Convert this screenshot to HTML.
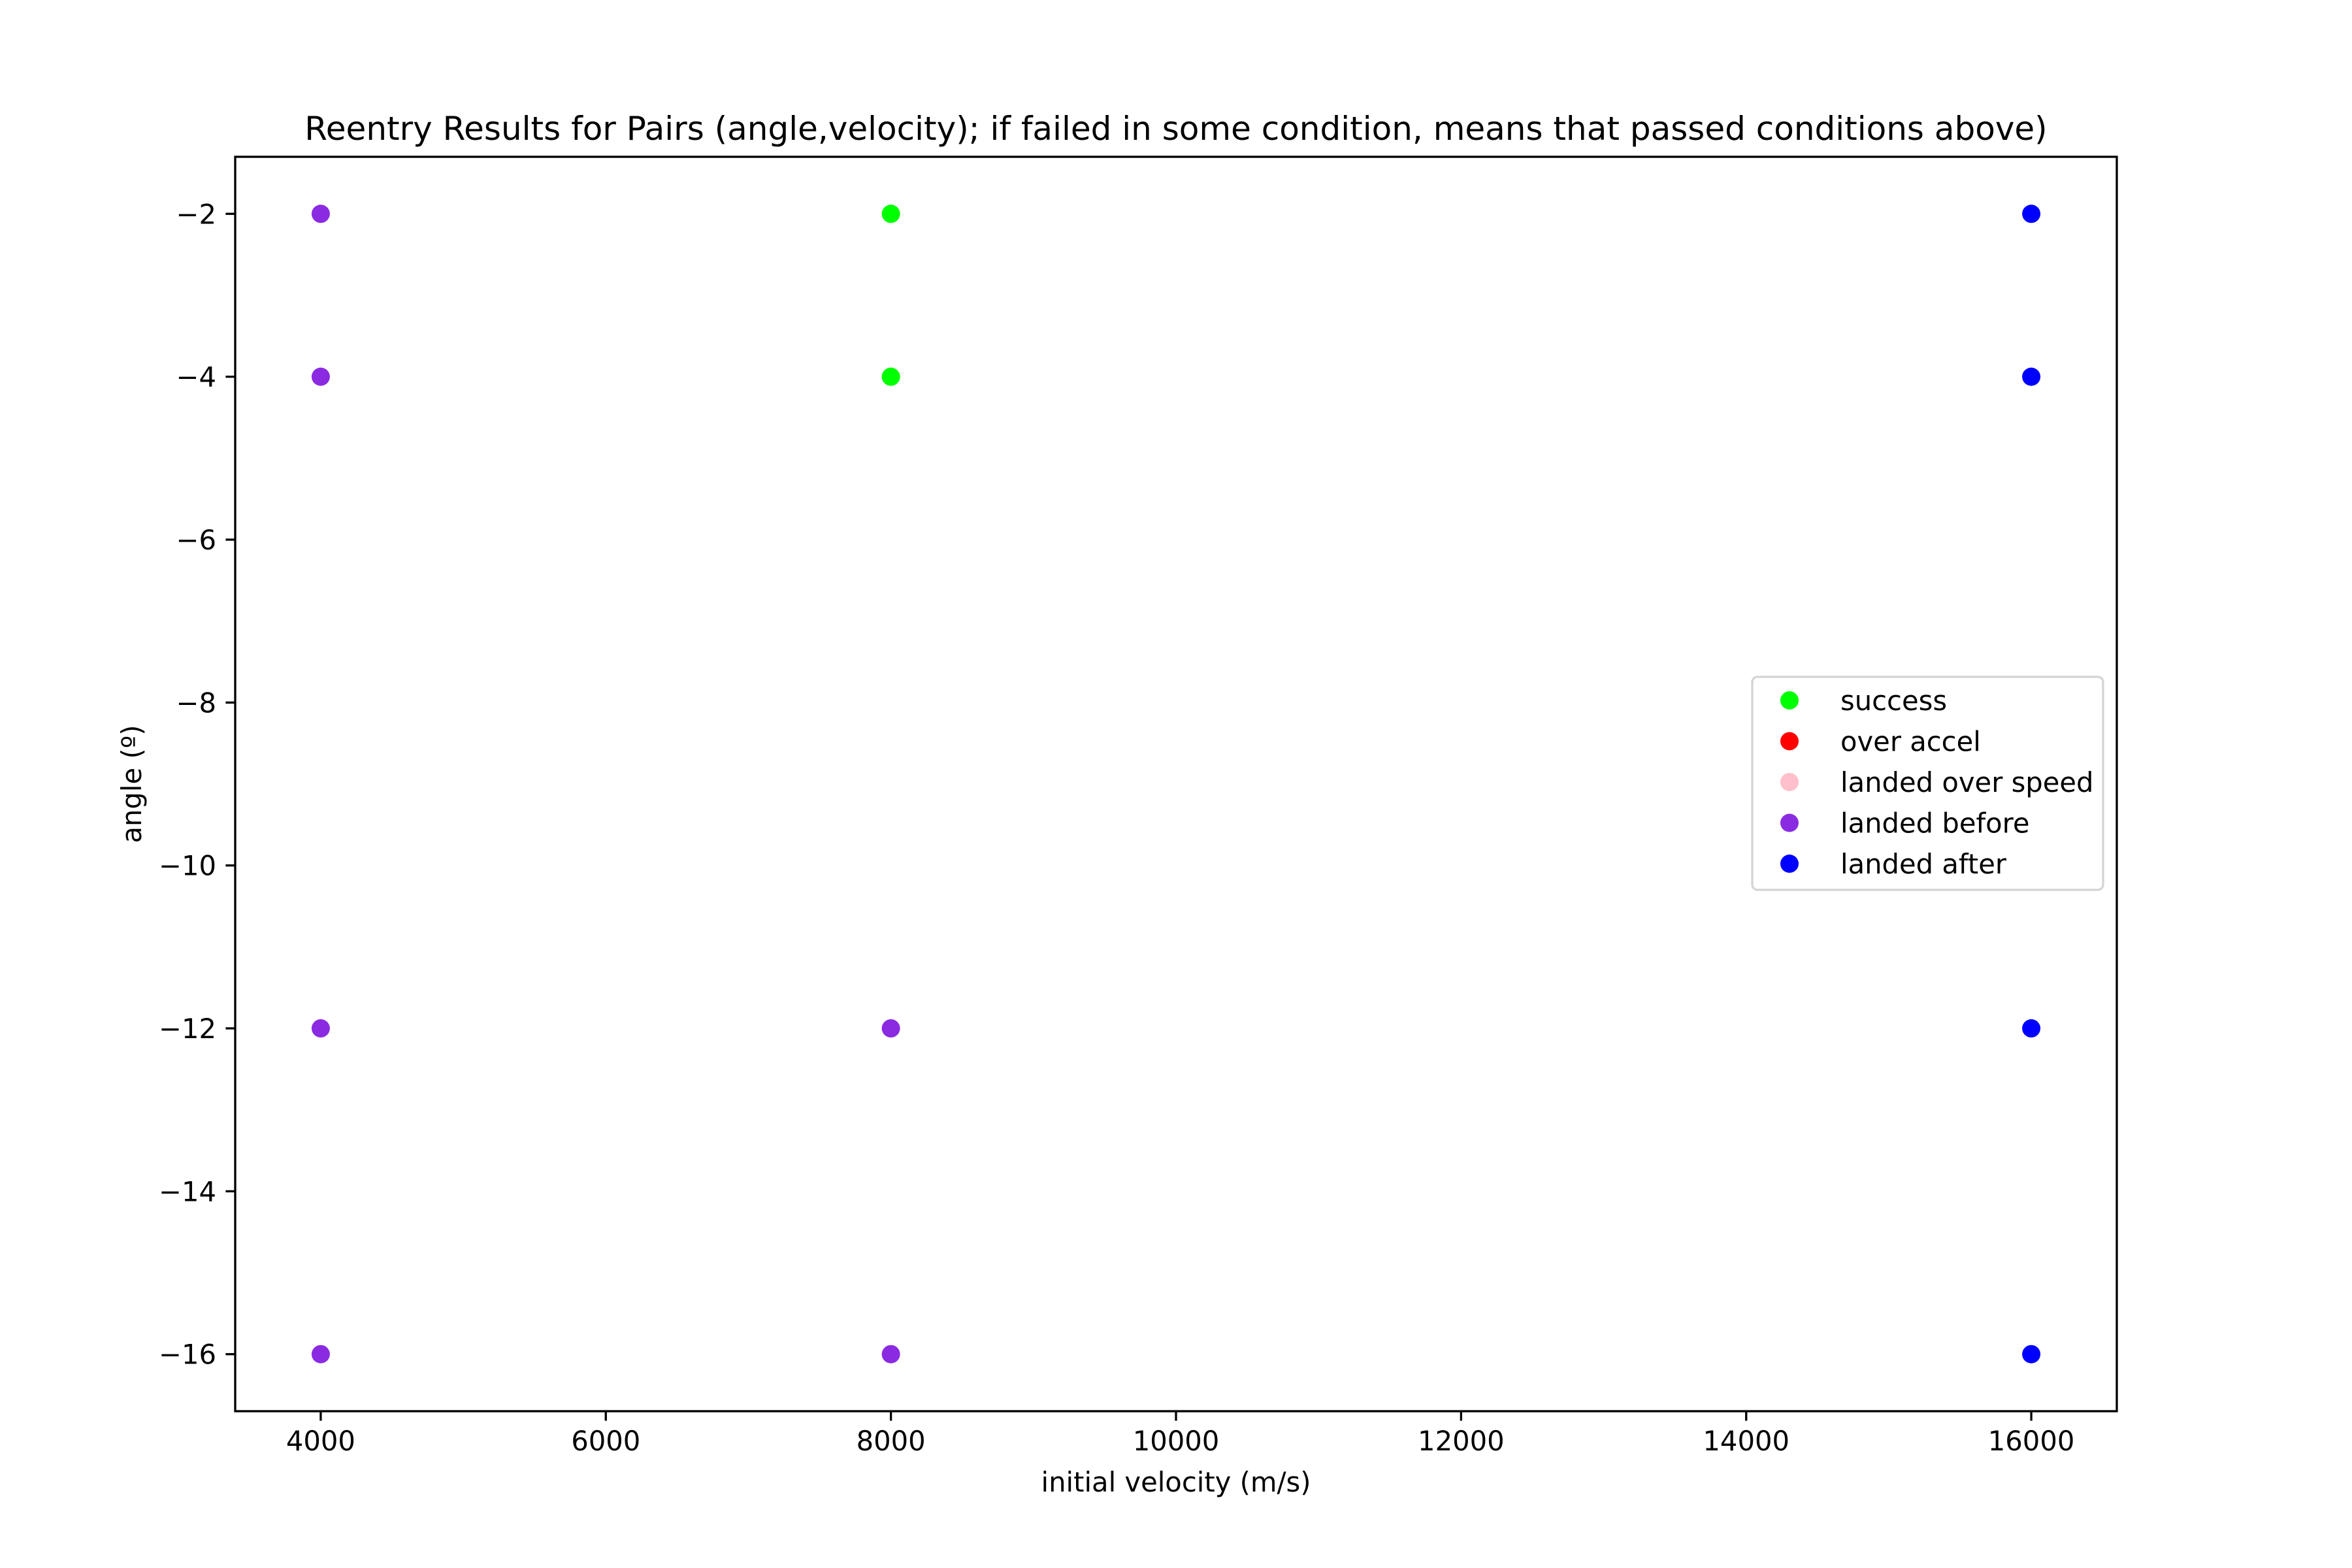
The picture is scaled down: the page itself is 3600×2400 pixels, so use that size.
<!DOCTYPE html>
<html><head><meta charset="utf-8"><style>
html,body{margin:0;padding:0;background:#fff}
svg{display:block;font-family:"DejaVu Sans","Liberation Sans",sans-serif}
</style></head><body>
<svg id="chart" width="3600" height="2400" viewBox="0 0 3600 2400" xmlns="http://www.w3.org/2000/svg">
<rect width="3600" height="2400" fill="#fff"/>
<text x="1800" y="214" font-size="50" text-anchor="middle">Reentry Results for Pairs (angle,velocity); if failed in some condition, means that passed conditions above)</text>
<g id="plot"></g>
<text x="1800" y="2283" font-size="41.7" text-anchor="middle">initial velocity (m/s)</text>
<text transform="translate(216,1200) rotate(-90)" font-size="41.7" text-anchor="middle">angle (º)</text>
<g id="legend"></g>
</svg>
<script>
const categories = ["success","over accel","landed over speed","landed before","landed after"];
const colors = ["#00ff00","#ff0000","#ffc0cb","#8a2be2","#0000ff"];
const successX = [8000,8000];
const successY = [-2,-4];
const landedBeforeX = [4000,4000,4000,4000,8000,8000];
const landedBeforeY = [-2,-4,-12,-16,-12,-16];
const landedAfterX = [16000,16000,16000,16000];
const landedAfterY = [-2,-4,-12,-16];
const xTicks = [4000,6000,8000,10000,12000,14000,16000];
const yTicks = [-2,-4,-6,-8,-10,-12,-14,-16];

const L=360,R=3240,T=240,B=2160;
const xMin=3400,xMax=16600,yMin=-16.7,yMax=-1.3;
const sx=v=>L+(v-xMin)/(xMax-xMin)*(R-L);
const sy=v=>T+(yMax-v)/(yMax-yMin)*(B-T);
const NS="http://www.w3.org/2000/svg";
const plot=document.getElementById('plot');
function mk(tag,attrs,parent){const e=document.createElementNS(NS,tag);for(const k in attrs)e.setAttribute(k,attrs[k]);parent.appendChild(e);return e;}

function series(xs,ys,color,name){
  xs.forEach((x,i)=>{
    const c=mk('circle',{cx:sx(x),cy:sy(ys[i]),r:14,fill:color},plot);
    
    
  });
}
series(successX,successY,colors[0],'success');
series(landedBeforeX,landedBeforeY,colors[3],'landed-before');
series(landedAfterX,landedAfterY,colors[4],'landed-after');

xTicks.forEach(t=>{
  const x=sx(t);
  const ln=mk('line',{x1:x,x2:x,y1:B,y2:B+14.6,stroke:'#000','stroke-width':3.3},plot);
  
  
  const tx=mk('text',{x:x,y:B+60,'font-size':41.7,'text-anchor':'middle'},plot);
  tx.textContent=t;
  
  
});
yTicks.forEach(t=>{
  const y=sy(t);
  const ln=mk('line',{x1:L-14.6,x2:L,y1:y,y2:y,stroke:'#000','stroke-width':3.3},plot);
  
  
  const tx=mk('text',{x:L-29,y:y+15,'font-size':41.7,'text-anchor':'end'},plot);
  tx.textContent='\u2212'+Math.abs(t);
  
  
});
const frame=mk('rect',{x:L,y:T,width:R-L,height:B-T,fill:'none',stroke:'#000','stroke-width':3.3},plot);



const lg=document.getElementById('legend');
const box=mk('rect',{x:2682,y:1036,width:537,height:326,rx:8,fill:'#fff','fill-opacity':0.8,stroke:'#d4d4d4','stroke-width':3.3},lg);


categories.forEach((c,i)=>{
  const y=1072+i*62.5;
  const m=mk('circle',{cx:2739,cy:y,r:14,fill:colors[i]},lg);
  
  
  const t=mk('text',{x:2817,y:y+15,'font-size':41.7},lg);
  t.textContent=c;
  
  
});
</script>
</body></html>
